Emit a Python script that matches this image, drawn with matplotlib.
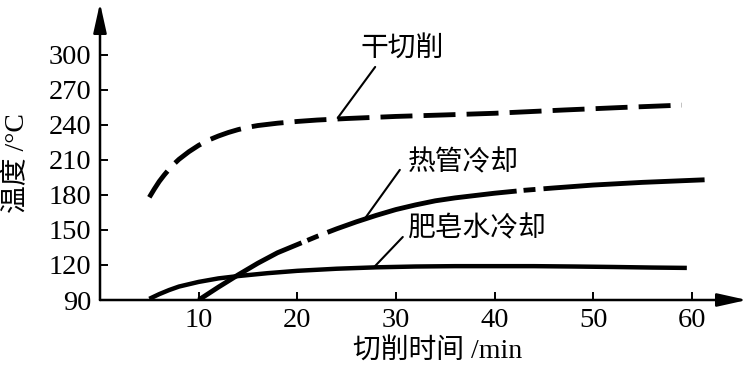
import matplotlib
matplotlib.use("Agg")
import matplotlib.pyplot as plt

dry_x = [5, 5.5, 6, 6.5, 7, 7.5, 8, 9, 10, 11, 12, 13, 14, 15, 16, 17, 18, 20, 22,
         25, 30, 35, 40, 47, 53, 59]
dry_y = [178, 185, 191.5, 197, 202, 206.5, 210.5, 217, 222.5, 227, 230.5, 233.5, 236,
         238, 239.5, 240.5, 241.5, 243, 244.2, 245.5, 247.3, 248.6, 250, 252.8, 255, 257]

pipe_x = [10, 12, 14, 16, 18, 20, 22, 24, 26, 28, 30, 32, 34, 36, 38, 40, 43, 46,
          50, 55, 61.3]
pipe_y = [90, 101, 111.5, 121.5, 130.5, 137.5, 144.5, 151, 157, 162.5, 167.5, 171.5,
          175, 177.5, 179.5, 181.5, 184, 186, 188.5, 190.8, 193]

soap_x = [5, 6, 7, 8, 10, 12, 14, 17, 20, 24, 28, 32, 36, 40, 44, 48, 52, 56, 59.5]
soap_y = [91, 95, 98.5, 101.5, 105.5, 108.5, 110.5, 113, 115, 116.8, 118, 118.7, 119,
          119, 119, 118.7, 118.3, 117.8, 117.5]

x_ticks = [10, 20, 30, 40, 50, 60]
y_ticks = [90, 120, 150, 180, 210, 240, 270, 300]

# label text, text anchor (left, center), leader start, leader end on curve
labels = [
    ("干切削", (26.4, 306), (27.9, 289.7), (24.1, 246)),
    ("热管冷却", (31.2, 207.5), (30.4, 201.5), (26.9, 160.3)),
    ("肥皂水冷却", (31.2, 151.5), (30.7, 144), (27.7, 117.4)),
]

plt.rcParams['lines.scale_dashes'] = False
serif = ['Liberation Serif', 'Noto Sans CJK SC']
cjk = ['Noto Sans CJK SC', 'Liberation Serif']

fig = plt.figure(figsize=(7.49, 3.74), dpi=100)
ax = fig.add_axes([100 / 749, 74 / 374, 647 / 749, 297 / 374])
ax.set_xlim(0, 65.6)
ax.set_ylim(90, 344.5)

ax.plot(dry_x, dry_y, color='black', lw=3.5, dashes=(23, 8))
ax.plot(pipe_x, pipe_y, color='black', lw=3.5,
        dashes=(85, 4.5, 8.6, 7, 140, 5, 8.6, 5.8, 200, 1))
ax.plot(soap_x, soap_y, color='black', lw=3.2, solid_capstyle='butt',
        solid_joinstyle='round')

for text, pos, start, end in labels:
    ax.annotate('', xy=end, xytext=start,
                arrowprops=dict(arrowstyle='-', lw=1.5, color='black',
                                shrinkA=0, shrinkB=0))
    ax.text(pos[0], pos[1], text, family=cjk, fontsize=20, fontweight='light',
            ha='left', va='center')

# axes with arrow heads
for s in ax.spines.values():
    s.set_visible(False)
for tip in [(1, 0), (0, 1)]:
    ax.annotate('', xy=tip, xytext=(0, 0), xycoords='axes fraction',
                arrowprops=dict(arrowstyle='-|>,head_length=0.9,head_width=0.2',
                                mutation_scale=20, lw=1.8, color='black',
                                shrinkA=0, shrinkB=0))

ax.set_xticks(x_ticks)
ax.set_yticks(y_ticks)
ax.tick_params(direction='in', length=6, width=1.4, pad=6)
for lab in ax.get_xticklabels() + ax.get_yticklabels():
    lab.set_family(serif)
    lab.set_fontsize(20.5)

fig.text(438 / 749, 1 - 351 / 374, "切削时间 /min", family=serif, fontsize=20,
         fontweight='light', ha='center', va='center')
fig.text(17 / 749, 1 - 163 / 374, "温度 /°C", family=serif, fontsize=20,
         fontweight='light', ha='center', va='center', rotation=90)

fig.savefig("out.png", dpi=100)
